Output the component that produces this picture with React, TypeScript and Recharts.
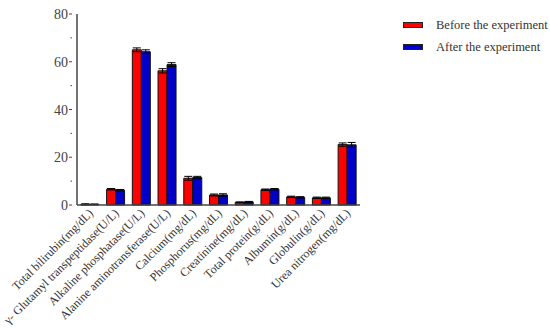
import { Bar, BarChart, ErrorBar, XAxis, YAxis } from "recharts"

const categories = [
  "Total bilirubin(mg/dL)",
  "γ- Glutamyl transpeptidase(U/L)",
  "Alkaline phosphatase(U/L)",
  "Alanine aminotransferase(U/L)",
  "Calcium(mg/dL)",
  "Phosphorus(mg/dL)",
  "Creatinine(mg/dL)",
  "Total protein(g/dL)",
  "Albumin(g/dL)",
  "Globulin(g/dL)",
  "Urea nitrogen(mg/dL)",
]

const before = [0.3, 6.6, 65.0, 56.2, 11.2, 4.2, 1.1, 6.4, 3.4, 3.0, 25.3]
const beforeErr = [0.2, 0.3, 0.8, 0.9, 0.8, 0.4, 0.2, 0.3, 0.3, 0.3, 0.7]
const after = [0.3, 6.2, 64.2, 58.8, 11.5, 4.2, 1.3, 6.6, 3.2, 3.0, 25.2]
const afterErr = [0.1, 0.3, 0.8, 0.8, 0.5, 0.5, 0.2, 0.3, 0.3, 0.3, 1.0]

const yTicks = [0, 10, 20, 30, 40, 50, 60, 70, 80]

const data = categories.map((name, i) => ({
  name,
  before: before[i],
  beforeErr: beforeErr[i],
  after: after[i],
  afterErr: afterErr[i],
}))

const FONT = "Liberation Serif"
const AXIS = "#444"

function YTick(props: any) {
  const { x, y, payload } = props
  const major = payload.value % 20 === 0
  return (
    <g>
      <line x1={x + 3} x2={x + (major ? 0 : 1.5)} y1={y} y2={y} stroke={AXIS} strokeWidth={1} />
      {major && (
        <text x={x - 1} y={y} dy={5} textAnchor="end" fill="#444" fontSize={14} style={{ fontFamily: FONT }}>
          {payload.value}
        </text>
      )}
    </g>
  )
}

function XTick(props: any) {
  const { x, y, payload } = props
  const ax = x + 4
  const ay = y + 1
  return (
    <text
      x={ax}
      y={ay}
      textAnchor="end"
      fill="#333"
      fontSize={12}
      style={{ fontFamily: FONT }}
      transform={`rotate(-45 ${ax} ${ay})`}
    >
      {payload.value}
    </text>
  )
}

function LegendBox() {
  const items = [
    { label: "Before the experiment", color: "#ff0000" },
    { label: "After the experiment", color: "#0000c8" },
  ]
  return (
    <div
      style={{
        position: "absolute",
        left: 403,
        top: 14,
        fontFamily: FONT,
        fontSize: 12.5,
        color: "#333",
        whiteSpace: "nowrap",
      }}
    >
      {items.map((it) => (
        <div key={it.label} style={{ display: "flex", alignItems: "center", height: 22 }}>
          <div
            style={{
              width: 18,
              height: 4,
              background: it.color,
              border: "1px solid #222",
              marginRight: 13,
            }}
          />
          <span>{it.label}</span>
        </div>
      ))}
    </div>
  )
}

export default function App() {
  return (
    <div style={{ position: "absolute", left: 0, top: 0, width: 550, height: 331, background: "#fff" }}>
      <BarChart
        width={550}
        height={331}
        data={data}
        margin={{ top: 14, right: 190, bottom: 0, left: 0 }}
        barCategoryGap="15%"
        barGap={0}
      >
        <XAxis
          dataKey="name"
          interval={0}
          height={126}
          tick={<XTick />}
          tickLine={false}
          axisLine={{ stroke: AXIS, strokeWidth: 1.5 }}
        />
        <YAxis
          domain={[0, 80]}
          ticks={yTicks}
          width={77}
          tick={<YTick />}
          tickLine={false}
          axisLine={{ stroke: AXIS, strokeWidth: 1.5 }}
        />
        <Bar dataKey="before" name="Before the experiment" fill="#ff0000" stroke="#111" strokeWidth={1} isAnimationActive={false}>
          <ErrorBar dataKey="beforeErr" width={4} stroke="#000" strokeWidth={1} />
        </Bar>
        <Bar dataKey="after" name="After the experiment" fill="#0000c8" stroke="#111" strokeWidth={1} isAnimationActive={false}>
          <ErrorBar dataKey="afterErr" width={4} stroke="#000" strokeWidth={1} />
        </Bar>
      </BarChart>
      <LegendBox />
    </div>
  )
}
